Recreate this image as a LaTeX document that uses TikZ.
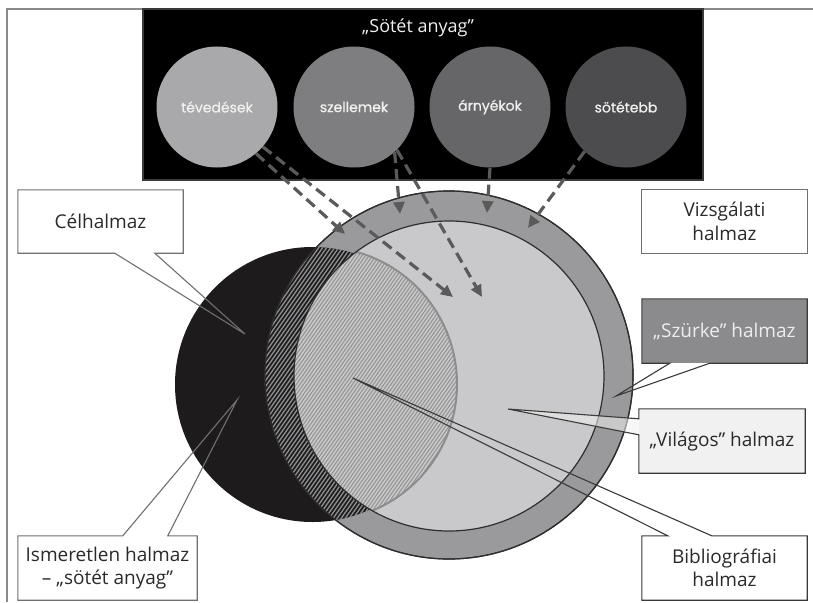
\documentclass[tikz,border=0pt]{standalone}
\usepackage{fontspec}
\setmainfont{Open Sans}
\newfontfamily\popfont[FakeBold=0.7]{Poppins}
\usetikzlibrary{arrows.meta,calc}
\definecolor{ringgray}{HTML}{9A9A9C}
\definecolor{innergray}{HTML}{C9C9CB}
\definecolor{blackset}{HTML}{1D1B1C}
\definecolor{darkbox}{HTML}{231F20}
\definecolor{cone}{HTML}{A9A9AB}
\definecolor{ctwo}{HTML}{7E7E80}
\definecolor{cthree}{HTML}{666668}
\definecolor{cfour}{HTML}{4C4C4E}
\definecolor{szfill}{HTML}{8B8B8D}
\definecolor{vilfill}{HTML}{F1F1F1}
\definecolor{dashc}{HTML}{5A5A5A}
\definecolor{textc}{HTML}{2A2A2A}
\definecolor{lightline}{HTML}{707070}
\definecolor{darkline}{HTML}{3A3A3A}
\definecolor{framec}{HTML}{8A8A8A}
\tikzset{
  dcirc/.style={circle, minimum size=121, inner sep=0, text=white!94!black,
    font=\popfont\fontsize{14}{16}\selectfont},
  boxnode/.style={rectangle, inner sep=0, draw=none, text=textc, align=center,
    font=\fontsize{19}{23.5}\selectfont},
  lightbox/.style={draw=lightline, line width=1.1, line join=miter},
  darkbox/.style={draw=darkline, line width=1.1, line join=miter},
  dasharrow/.style={draw=dashc, line width=3.2, dash pattern=on 11pt off 6pt,
    -{Triangle[length=12pt,width=11pt]}},
  stripedark/.style={draw=ringgray!92!black, line width=1.3},
  stripelight/.style={draw=innergray!72!black, line width=1.0},
}
\begin{document}
\begin{tikzpicture}[x=1pt,y=-1pt]
\useasboundingbox (0,0) rectangle (813,602);
\fill[white] (0,0) rectangle (813,602);
\draw[framec, line width=1.4] (7,602) -- (7,9) -- (813,9);

% dark "Sötét anyag" panel
\fill[darkbox] (143,9) rectangle (703,180);
\node[text=white!94!black, font=\fontsize{18}{20}\selectfont] (title) at (418,28) {„Sötét anyag”};
\node[dcirc, fill=cone] (tev) at (217,107) {tévedések};
\node[dcirc, fill=ctwo] (szel) at (354,107) {szellemek};
\node[dcirc, fill=cthree] (arny) at (490,107) {árnyékok};
\node[dcirc, fill=cfour] (sot) at (626,107) {sötétebb};

% sets
\fill[blackset] (312.5,384.5) circle[radius=137.5];
\draw[fill=ringgray, draw=black!82, line width=1.2] (449,375) circle[radius=184];
\begin{scope}
  \clip (312.5,384.5) circle[radius=137.5];
  \clip (449,375) circle[radius=184];
  \fill[blackset] (0,0) rectangle (813,602);
  \foreach \c in {-40,-36,...,440} \draw[stripedark] (\c,600) -- (\c+420,0);
\end{scope}
\draw[draw=black!82, line width=1.2] (449,375) circle[radius=184];
\fill[innergray] (449,376) circle[radius=155];
\begin{scope}
  \clip (449,376) circle[radius=155];
  \clip (320,384) circle[radius=137];
  \foreach \c in {-40,-36.5,...,440} \draw[stripelight] (\c,600) -- (\c+420,0);
\end{scope}
\begin{scope}
  \clip (449,376) circle[radius=155];
  \draw[draw=innergray!70!black, line width=2] (320,384) circle[radius=137];
\end{scope}
\draw[draw=black!82, line width=1.2] (449,376) circle[radius=155];

% dashed arrows
\coordinate (e1) at (345,234);
\coordinate (e2) at (453,297);
\coordinate (e3) at (400,214);
\coordinate (e4) at (482,297);
\coordinate (e5) at (487,213);
\coordinate (e6) at (528,228);
\draw[dasharrow] (tev.-50) -- (e1);
\draw[dasharrow] (tev.-41) -- (e2);
\draw[dasharrow] (szel.-48) -- (e3);
\draw[dasharrow] (szel.-45) -- (e4);
\draw[dasharrow] (arny.south) -- (e5);
\draw[dasharrow] (sot.-133) -- (e6);

% callouts
\node[boxnode, fill=white, minimum width=165, minimum height=63] (cel) at (100.5,221.5) {Célhalmaz};
\coordinate (celtip) at (245,334);
\draw[lightbox] (cel.south west) -- (cel.north west) -- (cel.north east) -- (cel.south east)
  -- ($(cel.south west)+(137,0)$) -- (celtip) -- ($(cel.south west)+(97,0)$) -- cycle;

\node[boxnode, fill=white, minimum width=165, minimum height=63] (viz) at (724.5,221.5) {Vizsgálati\\halmaz};
\draw[lightbox] (viz.south west) rectangle (viz.north east);

\node[boxnode, fill=szfill, text=white!93!black, minimum width=165, minimum height=64] (szu) at (724.5,331) {„Szürke” halmaz};
\coordinate (szutip) at (616,396);
\draw[darkbox] (szu.south west) -- (szu.north west) -- (szu.north east) -- (szu.south east)
  -- ($(szu.south west)+(68,0)$) -- (szutip) -- ($(szu.south west)+(28,0)$) -- cycle;

\node[boxnode, fill=vilfill, minimum width=166, minimum height=64] (vil) at (722,441) {„Világos” halmaz};
\coordinate (viltip) at (508,409);
\fill[vilfill, opacity=0.55] ($(vil.north west)+(0,10)$) -- (viltip) -- ($(vil.north west)+(0,26)$) -- cycle;
\draw[darkbox] (vil.north west) -- (vil.north east) -- (vil.south east) -- (vil.south west)
  -- ($(vil.north west)+(0,26)$) -- (viltip) -- ($(vil.north west)+(0,10)$) -- cycle;

\node[boxnode, fill=white, minimum width=165, minimum height=64] (bib) at (724.5,568) {Bibliográfiai\\halmaz};
\coordinate (bibtip) at (353,378);
\draw[darkbox] (bib.north west) -- ($(bib.north west)+(26,0)$) -- (bibtip) -- ($(bib.north west)+(70,0)$)
  -- (bib.north east) -- (bib.south east) -- (bib.south west) -- cycle;

\node[boxnode, fill=white, minimum width=179, minimum height=64] (ism) at (107.5,568) {Ismeretlen halmaz\\– „sötét anyag”};
\coordinate (ismtip) at (237,400);
\draw[lightbox] (ism.north west) -- ($(ism.north west)+(105,0)$) -- (ismtip) -- ($(ism.north west)+(150,0)$)
  -- (ism.north east) -- (ism.south east) -- (ism.south west) -- cycle;
\end{tikzpicture}
\end{document}
